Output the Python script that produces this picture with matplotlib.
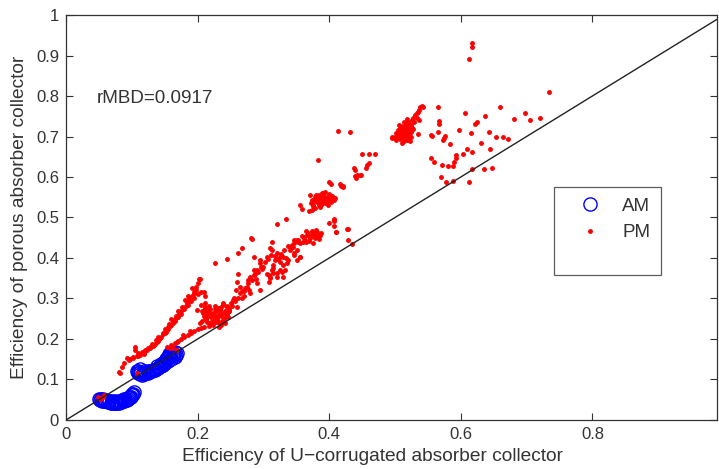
import numpy as np
import matplotlib
matplotlib.use("Agg")
from matplotlib import pyplot as plt
from matplotlib.lines import Line2D

plt.rcParams['font.family'] = ['Liberation Sans', 'DejaVu Sans']

# AM (blue open circles), two blobs near the diagonal
am_x = [0.050, 0.052, 0.053, 0.055, 0.056, 0.058, 0.060, 0.062, 0.064, 0.066, 0.068, 0.070,
        0.072, 0.074, 0.076, 0.078, 0.080, 0.082, 0.084, 0.086, 0.088, 0.090, 0.092, 0.094,
        0.096, 0.098, 0.099, 0.101, 0.102, 0.104, 0.060, 0.065, 0.070, 0.075, 0.080, 0.085,
        0.090, 0.095, 0.100, 0.055, 0.070, 0.088,
        0.108, 0.109, 0.110, 0.112, 0.113, 0.115, 0.117, 0.119, 0.120, 0.122, 0.125, 0.127,
        0.130, 0.132, 0.135, 0.137, 0.140, 0.142, 0.145, 0.147, 0.148, 0.150, 0.151, 0.152,
        0.154, 0.155, 0.157, 0.158, 0.160, 0.162, 0.164, 0.166, 0.168, 0.167, 0.165, 0.160,
        0.155, 0.150, 0.112, 0.118, 0.124, 0.138, 0.145, 0.156, 0.162]
am_y = [0.052, 0.050, 0.053, 0.049, 0.051, 0.047, 0.046, 0.048, 0.044, 0.046, 0.042, 0.044,
        0.041, 0.043, 0.041, 0.043, 0.042, 0.045, 0.044, 0.047, 0.047, 0.050, 0.050, 0.053,
        0.054, 0.057, 0.058, 0.061, 0.063, 0.068, 0.050, 0.048, 0.047, 0.046, 0.047, 0.049,
        0.053, 0.056, 0.064, 0.047, 0.042, 0.052,
        0.120, 0.116, 0.122, 0.113, 0.118, 0.112, 0.116, 0.113, 0.118, 0.115, 0.117, 0.120,
        0.120, 0.123, 0.124, 0.127, 0.128, 0.131, 0.133, 0.136, 0.140, 0.143, 0.146, 0.150,
        0.152, 0.156, 0.158, 0.162, 0.163, 0.166, 0.164, 0.168, 0.166, 0.160, 0.155, 0.150,
        0.145, 0.140, 0.125, 0.122, 0.121, 0.134, 0.139, 0.162, 0.158]

# PM (red dots)
pm_x = [0.049, 0.054, 0.057, 0.052, 0.108, 0.082,
        # lower-left strands
        0.080, 0.085, 0.092, 0.096, 0.102, 0.105, 0.105, 0.110, 0.115,
        0.102, 0.108, 0.113, 0.118, 0.123, 0.128, 0.133, 0.138, 0.143, 0.148, 0.153, 0.158,
        0.163, 0.168, 0.173, 0.178, 0.184, 0.189, 0.194, 0.198, 0.201, 0.203, 0.181, 0.191,
        0.186, 0.170, 0.160, 0.150, 0.140, 0.130, 0.120,
        0.150, 0.155, 0.160, 0.165, 0.170, 0.175, 0.180, 0.185, 0.190, 0.195, 0.200, 0.205,
        0.209, 0.211, 0.145, 0.140, 0.135, 0.128,
        0.125, 0.132, 0.137, 0.142, 0.147, 0.152, 0.157, 0.162, 0.167, 0.172, 0.177, 0.182,
        0.187, 0.192, 0.197, 0.155, 0.165, 0.175, 0.185, 0.195, 0.118, 0.110, 0.098, 0.088,
        # strand near the diagonal
        0.153, 0.160, 0.165, 0.170, 0.175, 0.180, 0.185, 0.190, 0.195, 0.200, 0.205, 0.209,
        0.211, 0.209, 0.199, 0.203, 0.188, 0.178, 0.168, 0.158, 0.163, 0.168,
        # cluster around (0.23, 0.26)
        0.205, 0.208, 0.212, 0.215, 0.218, 0.220, 0.222, 0.225, 0.228, 0.230, 0.232, 0.235,
        0.238, 0.240, 0.242, 0.245, 0.226, 0.218, 0.236, 0.248, 0.213, 0.207, 0.224, 0.246,
        0.209, 0.211, 0.239, 0.244, 0.234, 0.224, 0.214, 0.219, 0.229, 0.232,
        0.210, 0.216, 0.221, 0.227, 0.233, 0.237, 0.243, 0.247, 0.212, 0.219, 0.226, 0.231,
        0.238, 0.244, 0.215, 0.222, 0.228, 0.235, 0.241, 0.217, 0.206, 0.230,
        # band up to (0.39, 0.45)
        0.254, 0.265, 0.275, 0.280, 0.285, 0.295, 0.305, 0.313, 0.320, 0.330, 0.341, 0.351,
        0.361, 0.371, 0.381, 0.386, 0.325, 0.315, 0.336, 0.346, 0.356, 0.320, 0.310, 0.308,
        0.290, 0.295, 0.280, 0.270, 0.260, 0.260, 0.265,
        0.353, 0.361, 0.366, 0.371, 0.376, 0.381, 0.386, 0.374, 0.379, 0.356, 0.364, 0.384,
        0.346, 0.343, 0.351, 0.346, 0.356, 0.351, 0.341, 0.338, 0.330, 0.333, 0.325, 0.318,
        0.315, 0.313, 0.320, 0.328, 0.308, 0.300, 0.295, 0.290, 0.285, 0.310, 0.330, 0.286,
        0.283, 0.313, 0.310, 0.250, 0.255, 0.270, 0.258, 0.276, 0.262, 0.248,
        0.252, 0.257, 0.262, 0.267, 0.272, 0.277, 0.282, 0.287, 0.292, 0.297, 0.302, 0.307,
        0.312, 0.317, 0.322, 0.327, 0.332, 0.337, 0.342, 0.347, 0.352, 0.268, 0.278, 0.288,
        0.298, 0.305, 0.315, 0.325, 0.335, 0.345,
        0.358, 0.363, 0.368, 0.373, 0.378, 0.383, 0.388, 0.360, 0.370, 0.380, 0.365, 0.375,
        # upper band
        0.202, 0.227, 0.244, 0.261, 0.267, 0.281, 0.320, 0.334,
        0.374, 0.379, 0.384, 0.389, 0.394, 0.399, 0.404, 0.409, 0.381, 0.386, 0.391, 0.397,
        0.402, 0.376, 0.384, 0.389, 0.394, 0.379, 0.374, 0.369, 0.386, 0.356, 0.358, 0.392,
        0.396, 0.382, 0.388, 0.371,
        0.372, 0.377, 0.382, 0.387, 0.392, 0.397, 0.402, 0.407, 0.380, 0.390, 0.400, 0.385,
        0.395, 0.405, 0.375, 0.398,
        0.400, 0.403, 0.417, 0.421, 0.399, 0.407, 0.411, 0.408, 0.428, 0.429, 0.435, 0.427,
        0.383, 0.407, 0.408, 0.410,
        0.437, 0.442, 0.447, 0.450, 0.460, 0.470, 0.457, 0.460, 0.439, 0.439, 0.441, 0.449,
        0.456, 0.418, 0.421, 0.414, 0.432,
        # cluster around (0.515, 0.715)
        0.500, 0.503, 0.505, 0.507, 0.508, 0.510, 0.510, 0.512, 0.513, 0.514, 0.515, 0.516,
        0.517, 0.518, 0.519, 0.520, 0.521, 0.522, 0.523, 0.524, 0.525, 0.526, 0.527, 0.506,
        0.511, 0.509, 0.518, 0.496, 0.502, 0.515, 0.520, 0.512, 0.495,
        0.504, 0.508, 0.512, 0.516, 0.520, 0.524, 0.506, 0.510, 0.514, 0.518, 0.522, 0.501,
        0.526,
        0.528, 0.531, 0.533, 0.536, 0.538, 0.541, 0.543, 0.533, 0.529, 0.535, 0.537, 0.535,
        # scattered points to the right
        0.617, 0.617, 0.612, 0.734, 0.565, 0.606, 0.659, 0.697, 0.681, 0.705, 0.720, 0.637,
        0.624, 0.621, 0.567, 0.567, 0.566, 0.598, 0.615, 0.554, 0.556, 0.576, 0.574, 0.573,
        0.583, 0.643, 0.653, 0.664, 0.672, 0.630, 0.645, 0.609, 0.617, 0.604, 0.593, 0.593,
        0.554, 0.560, 0.571, 0.580, 0.588, 0.590, 0.617, 0.636, 0.647, 0.570, 0.578, 0.588,
        0.613]
pm_y = [0.058, 0.055, 0.062, 0.053, 0.117, 0.117,
        0.119, 0.132, 0.152, 0.148, 0.152, 0.173, 0.181, 0.165, 0.168,
        0.156, 0.158, 0.160, 0.166, 0.173, 0.178, 0.185, 0.193, 0.202, 0.212, 0.222, 0.232,
        0.243, 0.255, 0.267, 0.277, 0.288, 0.300, 0.317, 0.328, 0.338, 0.347, 0.296, 0.325,
        0.305, 0.270, 0.250, 0.225, 0.205, 0.188, 0.172,
        0.215, 0.225, 0.235, 0.245, 0.255, 0.262, 0.275, 0.285, 0.295, 0.302, 0.310, 0.315,
        0.317, 0.306, 0.205, 0.195, 0.188, 0.180,
        0.178, 0.182, 0.198, 0.200, 0.215, 0.218, 0.238, 0.240, 0.258, 0.262, 0.280, 0.282,
        0.298, 0.305, 0.322, 0.230, 0.250, 0.270, 0.292, 0.312, 0.162, 0.158, 0.150, 0.140,
        0.181, 0.185, 0.190, 0.195, 0.200, 0.205, 0.210, 0.215, 0.220, 0.225, 0.228, 0.230,
        0.251, 0.263, 0.272, 0.240, 0.220, 0.210, 0.192, 0.178, 0.177, 0.173,
        0.285, 0.265, 0.275, 0.262, 0.270, 0.255, 0.245, 0.260, 0.268, 0.252, 0.240, 0.258,
        0.265, 0.250, 0.270, 0.262, 0.275, 0.282, 0.278, 0.275, 0.250, 0.245, 0.235, 0.255,
        0.272, 0.288, 0.288, 0.280, 0.272, 0.263, 0.255, 0.239, 0.247, 0.230,
        0.258, 0.268, 0.262, 0.250, 0.262, 0.245, 0.258, 0.268, 0.280, 0.275, 0.282, 0.276,
        0.285, 0.282, 0.242, 0.238, 0.243, 0.235, 0.240, 0.232, 0.270, 0.258,
        0.296, 0.313, 0.329, 0.354, 0.370, 0.387, 0.403, 0.420, 0.412, 0.403, 0.428, 0.444,
        0.449, 0.453, 0.453, 0.457, 0.370, 0.362, 0.387, 0.412, 0.403, 0.354, 0.354, 0.341,
        0.338, 0.321, 0.313, 0.305, 0.280, 0.341, 0.329,
        0.444, 0.451, 0.457, 0.449, 0.461, 0.465, 0.457, 0.467, 0.449, 0.436, 0.440, 0.446,
        0.444, 0.432, 0.420, 0.407, 0.403, 0.395, 0.420, 0.395, 0.383, 0.370, 0.403, 0.395,
        0.383, 0.370, 0.362, 0.366, 0.358, 0.379, 0.395, 0.370, 0.358, 0.350, 0.354, 0.403,
        0.447, 0.440, 0.424, 0.290, 0.300, 0.318, 0.320, 0.345, 0.360, 0.268,
        0.282, 0.295, 0.302, 0.318, 0.325, 0.338, 0.345, 0.360, 0.365, 0.378, 0.390, 0.398,
        0.408, 0.405, 0.398, 0.410, 0.420, 0.430, 0.425, 0.438, 0.440, 0.300, 0.322, 0.348,
        0.372, 0.360, 0.375, 0.390, 0.400, 0.428,
        0.455, 0.445, 0.462, 0.455, 0.458, 0.452, 0.462, 0.440, 0.443, 0.470, 0.466, 0.438,
        0.347, 0.387, 0.397, 0.413, 0.425, 0.449, 0.484, 0.496,
        0.543, 0.551, 0.556, 0.560, 0.562, 0.556, 0.551, 0.547, 0.543, 0.547, 0.543, 0.545,
        0.539, 0.531, 0.531, 0.535, 0.535, 0.523, 0.519, 0.517, 0.525, 0.531, 0.520, 0.552,
        0.540, 0.538, 0.530, 0.555,
        0.536, 0.540, 0.548, 0.552, 0.550, 0.548, 0.544, 0.542, 0.555, 0.556, 0.558, 0.538,
        0.540, 0.552, 0.528, 0.532,
        0.588, 0.582, 0.582, 0.578, 0.486, 0.494, 0.463, 0.479, 0.471, 0.444, 0.434, 0.472,
        0.642, 0.496, 0.491, 0.463,
        0.622, 0.605, 0.605, 0.657, 0.657, 0.658, 0.630, 0.635, 0.617, 0.603, 0.597, 0.606,
        0.623, 0.579, 0.576, 0.714, 0.711,
        0.700, 0.705, 0.712, 0.720, 0.695, 0.703, 0.715, 0.725, 0.690, 0.708, 0.718, 0.730,
        0.698, 0.712, 0.722, 0.735, 0.705, 0.715, 0.688, 0.728, 0.700, 0.740, 0.718, 0.728,
        0.685, 0.708, 0.742, 0.698, 0.692, 0.700, 0.697, 0.712, 0.696,
        0.716, 0.712, 0.700, 0.706, 0.725, 0.712, 0.700, 0.722, 0.735, 0.692, 0.730, 0.708,
        0.722,
        0.746, 0.752, 0.758, 0.765, 0.772, 0.776, 0.774, 0.745, 0.735, 0.760, 0.741, 0.705,
        0.930, 0.922, 0.891, 0.811, 0.772, 0.757, 0.774, 0.757, 0.744, 0.741, 0.745, 0.751,
        0.735, 0.730, 0.739, 0.732, 0.712, 0.716, 0.708, 0.704, 0.702, 0.701, 0.696, 0.691,
        0.681, 0.710, 0.698, 0.698, 0.695, 0.683, 0.668, 0.669, 0.661, 0.657, 0.654, 0.646,
        0.646, 0.636, 0.630, 0.628, 0.627, 0.638, 0.619, 0.620, 0.621, 0.599, 0.588, 0.590,
        0.588]

rmbd_text = "rMBD=0.0917"

fig = plt.figure(figsize=(7.19, 4.69), dpi=100)
ax = fig.add_axes([0.0918, 0.1045, 0.906, 0.8635])

ax.plot(am_x, am_y, 'o', mfc='none', mec='#0000ff', ms=9.5, mew=1.0, zorder=2)
ax.plot(pm_x, pm_y, '.', color='#ff0000', ms=5, zorder=3)
ax.plot([0, 1], [0, 1], color='#222222', lw=1.0, zorder=4)

ax.set_xlim(0, 0.99)
ax.set_ylim(0, 1)
ax.set_xticks([0, 0.2, 0.4, 0.6, 0.8])
ax.set_xticklabels(['0', '0.2', '0.4', '0.6', '0.8'])
ax.set_yticks(np.arange(0, 1.01, 0.1))
ax.set_yticklabels(['0', '0.1', '0.2', '0.3', '0.4', '0.5', '0.6', '0.7', '0.8', '0.9', '1'])
ax.tick_params(direction='in', top=True, right=True, length=5, width=0.8,
               labelsize=12, labelcolor='#333333', color='#333333', pad=5)
for s in ax.spines.values():
    s.set_color('#333333')
    s.set_linewidth(0.9)

ax.set_xlabel('Efficiency of U\u2212corrugated absorber collector', fontsize=13.8,
              color='#333333', va='center')
ax.xaxis.set_label_coords(0.471, -0.089)
ax.set_ylabel('Efficiency of porous absorber collector', fontsize=13.8,
              color='#333333', va='center')
ax.yaxis.set_label_coords(-0.072, 0.5)

ax.text(0.046, 0.793, rmbd_text, fontsize=13.6, color='#333333', va='center')

handles = [Line2D([], [], marker='o', ls='none', mfc='none', mec='#0000ff', ms=9.5),
           Line2D([], [], marker='.', ls='none', color='#ff0000', ms=5),
           Line2D([], [], ls='none')]
leg = ax.legend(handles, ['AM', 'PM', ' '], loc='upper left',
                bbox_to_anchor=(0.749, 0.575), fontsize=13.5, frameon=True,
                fancybox=False, edgecolor='#333333', borderpad=0.55,
                handlelength=2.8, handletextpad=0.3, labelspacing=0.5,
                borderaxespad=0)
leg.get_frame().set_linewidth(0.9)
leg.get_texts()[2].set_fontsize(4)
for t in leg.get_texts():
    t.set_color('#333333')

fig.savefig('out.png', dpi=100)
